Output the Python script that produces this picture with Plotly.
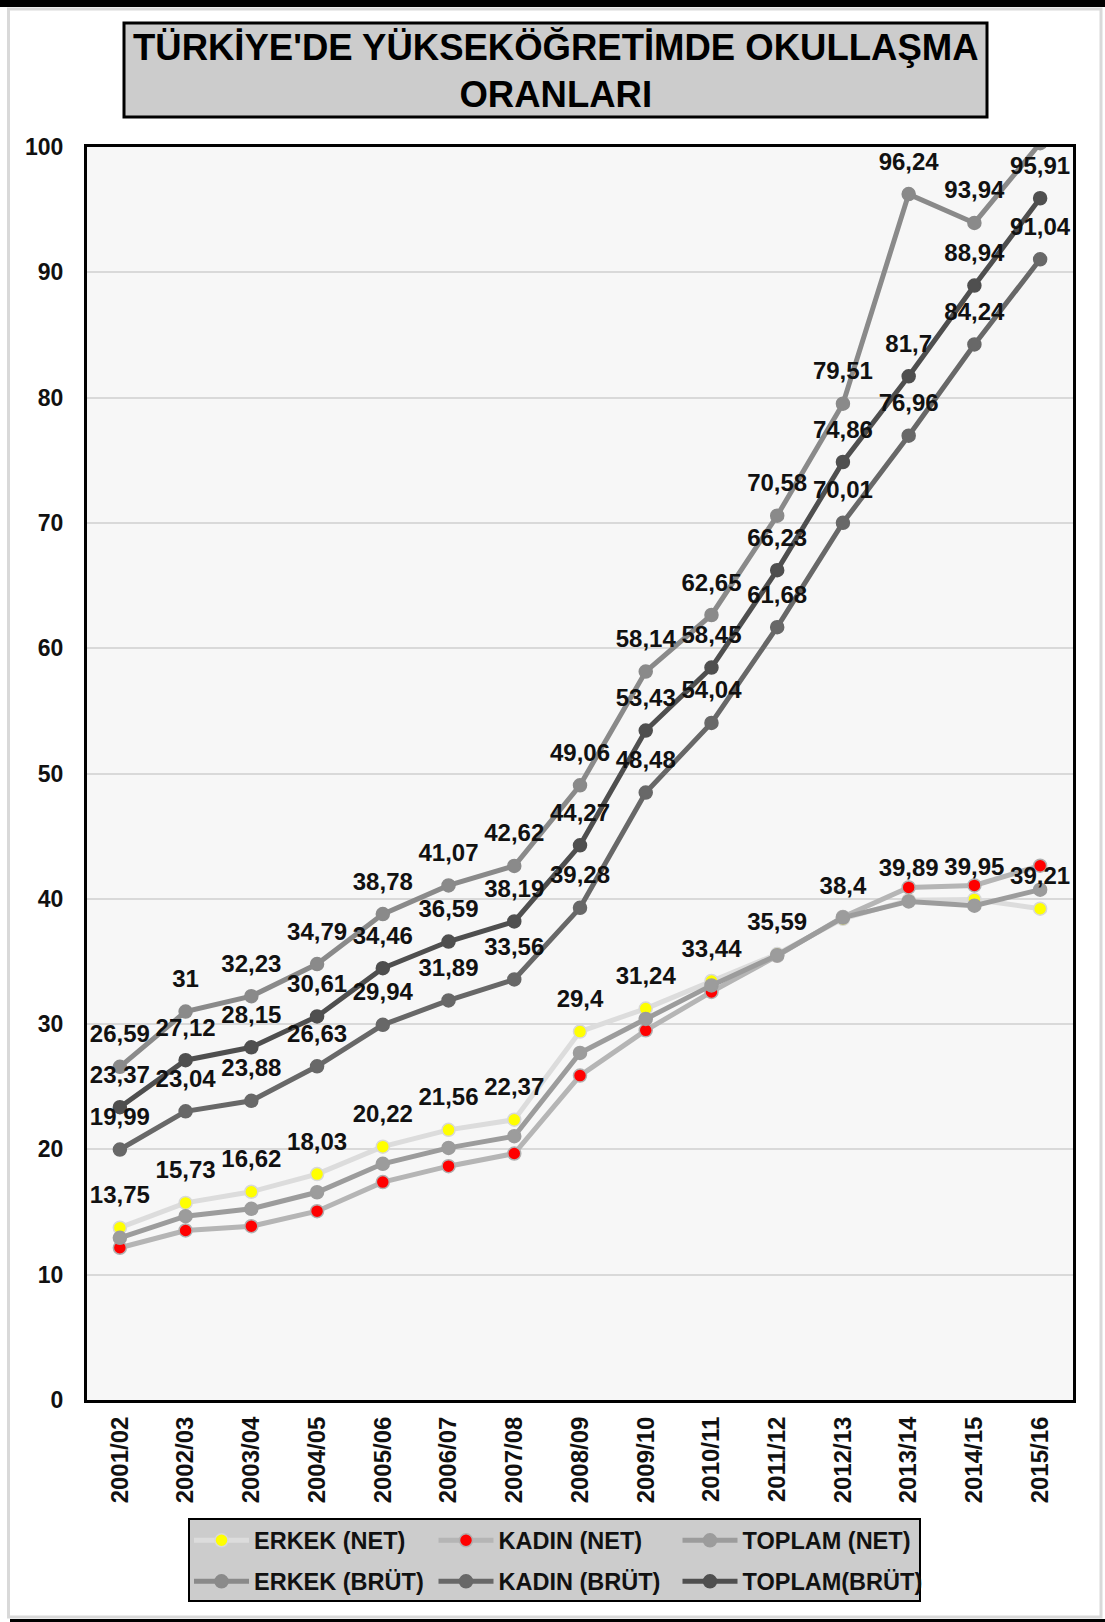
import plotly.graph_objects as go

# ---------------- data ----------------
categories = ['2001/02', '2002/03', '2003/04', '2004/05', '2005/06', '2006/07', '2007/08',
              '2008/09', '2009/10', '2010/11', '2011/12', '2012/13', '2013/14', '2014/15', '2015/16']

erkek_net = [13.75, 15.73, 16.62, 18.03, 20.22, 21.56, 22.37, 29.4, 31.24, 33.44, 35.59, 38.4, 39.89, 39.95, 39.21]
kadin_net = [12.15, 13.53, 13.87, 15.07, 17.39, 18.66, 19.67, 25.89, 29.50, 32.57, 35.45, 38.55, 40.91, 41.07, 42.64]
toplam_net = [12.94, 14.67, 15.26, 16.58, 18.85, 20.12, 21.05, 27.70, 30.41, 33.09, 35.50, 38.50, 39.79, 39.45, 40.73]

erkek_brut = [26.59, 31, 32.23, 34.79, 38.78, 41.07, 42.62, 49.06, 58.14, 62.65, 70.58, 79.51, 96.24, 93.94, 100.3]
kadin_brut = [19.99, 23.04, 23.88, 26.63, 29.94, 31.89, 33.56, 39.28, 48.48, 54.04, 61.68, 70.01, 76.96, 84.24, 91.04]
toplam_brut = [23.37, 27.12, 28.15, 30.61, 34.46, 36.59, 38.19, 44.27, 53.43, 58.45, 66.23, 74.86, 81.7, 88.94, 95.91]

series_names = ['ERKEK (NET)', 'KADIN (NET)', 'TOPLAM (NET)', 'ERKEK (BRÜT)', 'KADIN (BRÜT)', 'TOPLAM(BRÜT)']
y_ticks = [0, 10, 20, 30, 40, 50, 60, 70, 80, 90, 100]
title_text = "TÜRKİYE'DE YÜKSEKÖĞRETİMDE OKULLAŞMA<br>ORANLARI"

# ---------------- layout geometry (pixels) ----------------
W_FIG, H_FIG = 1105, 1622
L, R, T, B = 87, 1073, 147, 1400
PW, PH = R - L, B - T


def px(xp):
    return (xp - L) / PW


def py(yp):
    return (B - yp) / PH


FONT = 'Liberation Sans, Arial, sans-serif'


def fmt(v):
    s = ('%.2f' % v).rstrip('0').rstrip('.')
    return s.replace('.', ',')


fig = go.Figure()

styles = [
    # values, line colour, marker colour, marker border
    (erkek_net, '#dcdcdc', '#ffff00', '#d8d8d8'),
    (kadin_net, '#b5b5b5', '#ff0000', '#b0b0b0'),
    (toplam_net, '#9c9c9c', '#9c9c9c', '#9c9c9c'),
    (erkek_brut, '#8a8a8a', '#8a8a8a', '#8a8a8a'),
    (kadin_brut, '#686868', '#686868', '#686868'),
    (toplam_brut, '#4f4f4f', '#4f4f4f', '#4f4f4f'),
]

legend_ids = ['legend', 'legend2', 'legend3', 'legend4', 'legend5', 'legend6']
legend_text_x = [254.5, 499, 743]
legend_row_y = [1540.5, 1581.5]

legend_layouts = {}
for i, lid in enumerate(legend_ids):
    col, row = i % 3, i // 3
    legend_layouts[lid] = dict(
        orientation='h', x=px(legend_text_x[col] - 65.5), y=py(legend_row_y[row]),
        xanchor='left', yanchor='middle',
        bgcolor='rgba(0,0,0,0)', borderwidth=0, itemwidth=55,
        font=dict(family=FONT, size=23.5, color='#111111', weight='bold'))

for name, (vals, lc, mc, mlc), lid in zip(series_names, styles, legend_ids):
    fig.add_trace(go.Scatter(
        x=categories, y=vals, name=name, mode='lines+markers',
        line=dict(color=lc, width=5),
        marker=dict(color=mc, size=13, line=dict(color=mlc, width=1.5)),
        legend=lid, cliponaxis=True, hoverinfo='skip'
    ))

# data labels (drawn above all lines)
for vals in [erkek_net, erkek_brut, toplam_brut, kadin_brut]:
    fig.add_trace(go.Scatter(
        x=categories, y=vals, mode='markers+text',
        text=[fmt(v) for v in vals], textposition='top center',
        textfont=dict(family=FONT, size=24, color='#111111', weight='bold'),
        marker=dict(size=28, color='rgba(0,0,0,0)'),
        showlegend=False, cliponaxis=True, hoverinfo='skip'
    ))

shapes = []
# outer frame
shapes.append(dict(type='rect', xref='paper', yref='paper', layer='below',
                   x0=px(8.5), x1=px(1101), y0=py(1617), y1=py(9),
                   line=dict(color='#d9d9d9', width=3), fillcolor='rgba(0,0,0,0)'))
shapes.append(dict(type='rect', xref='paper', yref='paper', layer='below',
                   x0=px(0), x1=px(1105), y0=py(7), y1=py(0),
                   line=dict(width=0), fillcolor='#000000'))
shapes.append(dict(type='line', xref='paper', yref='paper', layer='below',
                   x0=px(10), x1=px(1105), y0=py(1620.5), y1=py(1620.5),
                   line=dict(color='#000000', width=3)))
# title box
shapes.append(dict(type='rect', xref='paper', yref='paper', layer='below',
                   x0=px(124), x1=px(987), y0=py(117), y1=py(23),
                   line=dict(color='#000000', width=3), fillcolor='#cccccc'))
# legend box
shapes.append(dict(type='rect', xref='paper', yref='paper', layer='below',
                   x0=px(189), x1=px(920), y0=py(1601), y1=py(1519),
                   line=dict(color='#000000', width=2), fillcolor='#cccccc'))

fig.update_layout(
    width=W_FIG, height=H_FIG,
    margin=dict(l=L, r=W_FIG - R, t=T, b=H_FIG - B, pad=0),
    paper_bgcolor='#ffffff', plot_bgcolor='#f7f7f7',
    font=dict(family=FONT, size=23, color='#111111'),
    shapes=shapes,
    annotations=[dict(
        text=title_text, xref='paper', yref='paper',
        x=px(555.5), y=py(71), xanchor='center', yanchor='middle',
        showarrow=False, align='center',
        font=dict(family=FONT, size=36.5, color='#000000', weight='bold'))],
    xaxis=dict(
        type='category', range=[-0.5, len(categories) - 0.5],
        showline=True, mirror=True, linecolor='#000000', linewidth=3,
        showgrid=False, zeroline=False, ticks='', tickangle=-90,
        ticklabelstandoff=4, automargin=False,
        tickfont=dict(family=FONT, size=24, color='#111111', weight='bold')),
    yaxis=dict(
        range=[0, 100], tickvals=y_ticks, ticktext=[str(t) for t in y_ticks],
        showline=True, mirror=True, linecolor='#000000', linewidth=3,
        showgrid=True, gridcolor='#d9d9d9', gridwidth=2, zeroline=False,
        ticks='', ticklabelstandoff=16, automargin=False,
        tickfont=dict(family=FONT, size=23, color='#111111', weight='bold')),
    **legend_layouts
)

fig.write_html('out.html',
               config={'displayModeBar': False},
               post_script="document.body.style.margin='0';document.body.style.overflow='hidden';")
